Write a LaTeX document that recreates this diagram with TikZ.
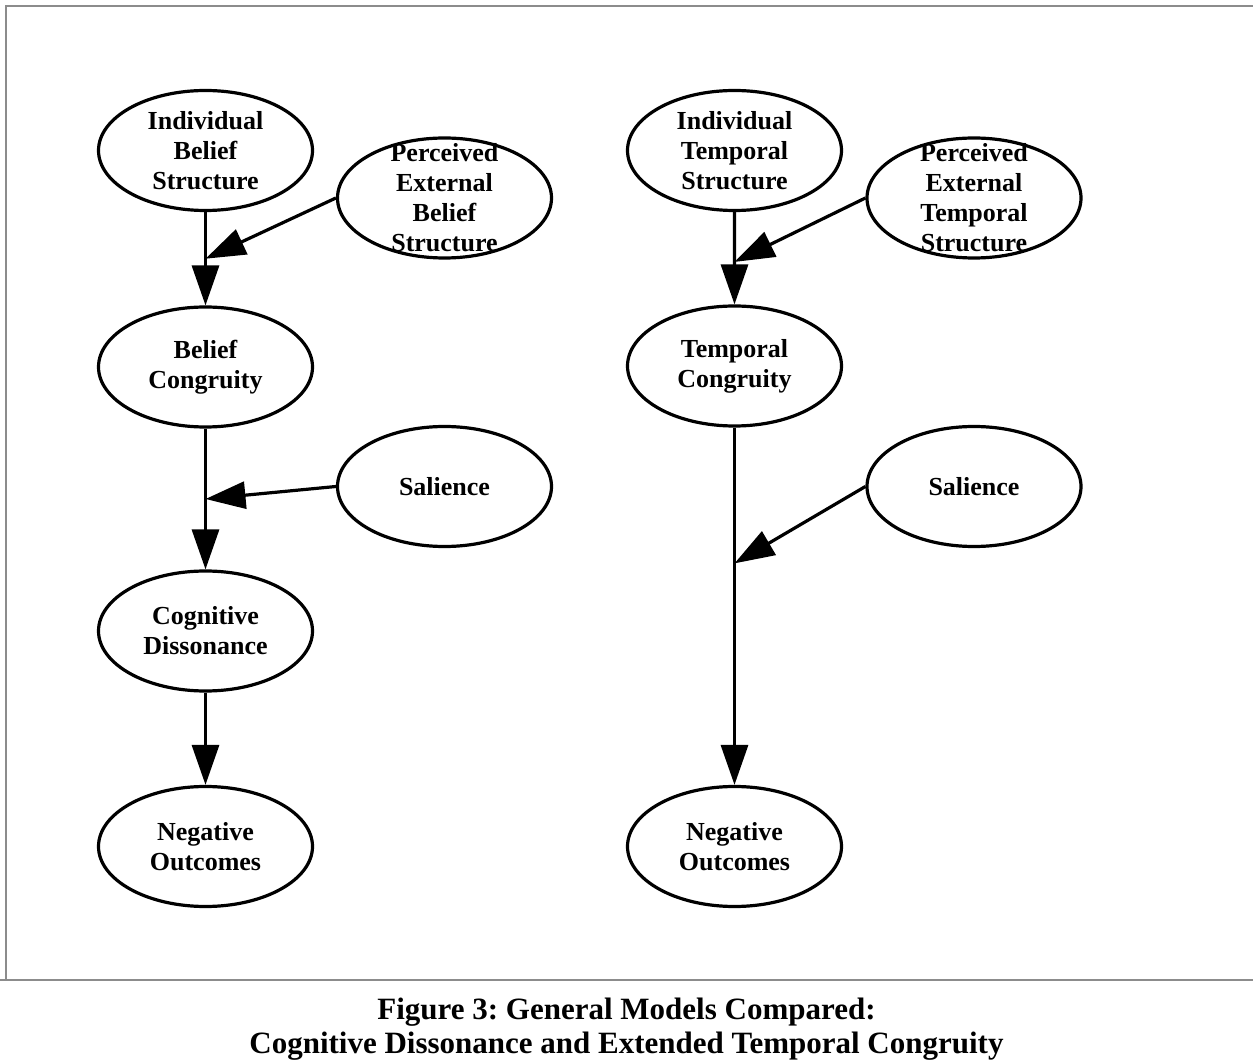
\documentclass[tikz,border=0pt]{standalone}
\usepackage{fontspec}
\setmainfont{Liberation Serif}
\usetikzlibrary{shapes.geometric,arrows.meta,calc}
\frenchspacing

\begin{document}
\begin{tikzpicture}[x=0.5pt,y=-0.5pt,
  bubble/.style={ellipse, draw, line width=1.6pt, minimum width=107pt,
    minimum height=60pt, inner sep=0pt},
  txt/.style={font=\fontsize{13}{15}\selectfont\bfseries, align=center,
    inner sep=0pt},
  stem/.style={line width=1.6pt},
  link/.style={line width=1.6pt, -{Triangle[length=20pt,width=13.5pt]}},
  frame/.style={draw=black!45, line width=1pt}]

\useasboundingbox (0,0) rectangle (1253,1063);

% page frame and caption rule
\draw[frame] (6,980) -- (6,6) -- (1253,6);
\draw[frame] (0,980) -- (1253,980);

% ---- cognitive dissonance model ----
\node[bubble, label={[txt]center:{Individual\\Belief\\Structure}}] (ibs) at (205.5,150.5) {};
\node[bubble, label={[txt]center:{Perceived\\External\\Belief\\Structure}}] (peb) at (444.5,198) {};
\node[bubble, label={[txt]center:{Belief\\Congruity}}] (bc) at (205.5,367) {};
\node[bubble, label={[txt]center:{Salience}}] (sal1) at (444.5,486.5) {};
\node[bubble, label={[txt]center:{Cognitive\\Dissonance}}] (cd) at (205.5,631) {};
\node[bubble, label={[txt]center:{Negative\\Outcomes}}] (no1) at (205.5,846.5) {};

\coordinate (jb1) at ($(ibs.south)!0.5!(bc.north)$);
\coordinate (jb2) at ($(bc.south)!0.5!(cd.north)$);

\draw[stem] (ibs) -- (jb1);
\draw[link] (jb1) -- (bc);
\draw[link] (peb.west) -- (jb1);
\draw[stem] (bc) -- (jb2);
\draw[link] (jb2) -- (cd);
\draw[link] (sal1.west) -- (jb2);
\draw[link] (cd) -- (no1);

% ---- extended temporal congruity model ----
\node[bubble, label={[txt]center:{Individual\\Temporal\\Structure}}] (its) at (734.5,150.5) {};
\node[bubble, label={[txt]center:{Perceived\\External\\Temporal\\Structure}}] (pet) at (974,198) {};
\node[bubble, label={[txt]center:{Temporal\\Congruity}}] (tc) at (734.5,366) {};
\node[bubble, label={[txt]center:{Salience}}] (sal2) at (974,486.5) {};
\node[bubble, label={[txt]center:{Negative\\Outcomes}}] (no2) at (734.5,846.5) {};

\coordinate (jt1) at ($(its.south)!0.54!(tc.north)$);
\coordinate (jt2) at ($(tc.south)!0.38!(no2.north)$);

\draw[stem] (its) -- (jt1);
\draw[link] (jt1) -- (tc);
\draw[link] (pet.west) -- (jt1);
\draw[stem] (tc) -- (jt2);
\draw[link] (jt2) -- (no2);
\draw[link] (sal2.west) -- (jt2);

% caption
\node[font=\fontsize{15.5}{17}\selectfont\bfseries, align=center, inner sep=0pt]
  (cap) at (626.5,1029)
  {Figure 3: General Models Compared:\\Cognitive Dissonance and Extended Temporal Congruity};
\end{tikzpicture}
\end{document}
